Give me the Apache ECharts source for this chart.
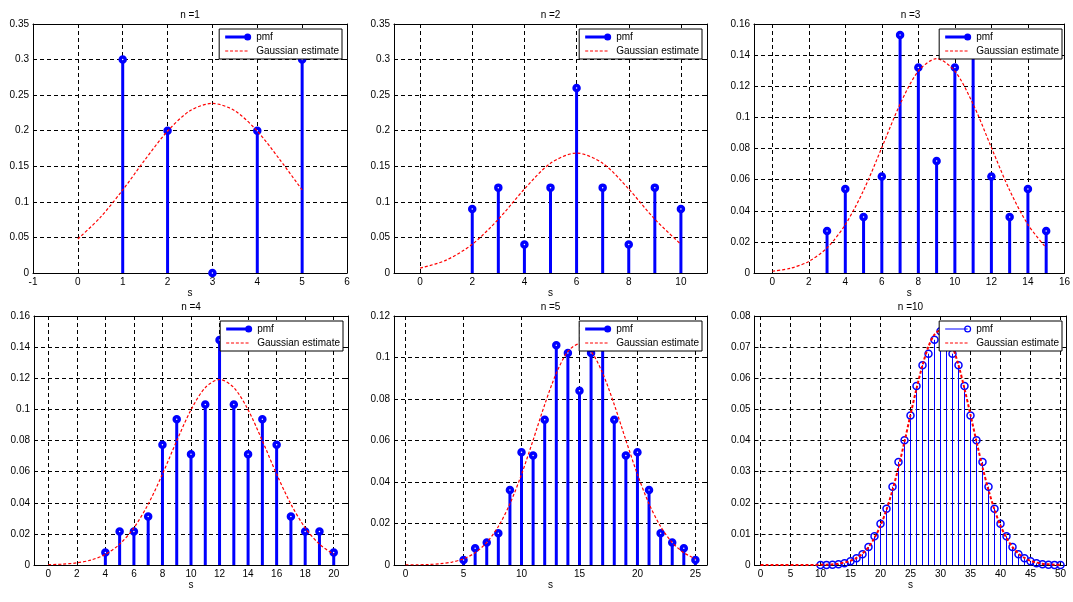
<!DOCTYPE html>
<html>
<head>
<meta charset="utf-8">
<script src="https://cdn.jsdelivr.net/npm/echarts@6/dist/echarts.min.js"></script>
<style>
html,body{margin:0;padding:0;background:#fff;}
#c{width:1073px;height:602px;}
</style>
</head>
<body>
<div id="c"></div>
<script>
// ---------------- data ----------------
const titles = ['n =1', 'n =2', 'n =3', 'n =4', 'n =5', 'n =10'];

const s1 = [1, 2, 3, 4, 5];
const pmf1 = [0.3, 0.2, 0, 0.2, 0.3];
const s2 = [2, 3, 4, 5, 6, 7, 8, 9, 10];
const pmf2 = [0.09, 0.12, 0.04, 0.12, 0.26, 0.12, 0.04, 0.12, 0.09];
const s3 = [3, 4, 5, 6, 7, 8, 9, 10, 11, 12, 13, 14, 15];
const pmf3 = [0.027, 0.054, 0.036, 0.062, 0.153, 0.132, 0.072, 0.132, 0.153, 0.062, 0.036, 0.054, 0.027];
const s4 = [4, 5, 6, 7, 8, 9, 10, 11, 12, 13, 14, 15, 16, 17, 18, 19, 20];
const pmf4 = [0.0081, 0.0216, 0.0216, 0.0312, 0.0772, 0.0936, 0.0712, 0.1032, 0.1446, 0.1032, 0.0712, 0.0936, 0.0772, 0.0312, 0.0216, 0.0216, 0.0081];
const s5 = [5, 6, 7, 8, 9, 10, 11, 12, 13, 14, 15, 16, 17, 18, 19, 20, 21, 22, 23, 24, 25];
const pmf5 = [0.00243, 0.0081, 0.0108, 0.0153, 0.03615, 0.05432, 0.0528, 0.07, 0.1059, 0.1022, 0.084, 0.1022, 0.1059, 0.07, 0.0528, 0.05432, 0.03615, 0.0153, 0.0108, 0.0081, 0.00243];
const s10 = [10, 11, 12, 13, 14, 15, 16, 17, 18, 19, 20, 21, 22, 23, 24, 25, 26, 27, 28, 29, 30,
             31, 32, 33, 34, 35, 36, 37, 38, 39, 40, 41, 42, 43, 44, 45, 46, 47, 48, 49, 50];
const pmf10 = [0.0000059, 0.0000394, 0.000118, 0.000249, 0.00054, 0.00118, 0.00215, 0.00348, 0.00576, 0.00927,
               0.01326, 0.0181, 0.02516, 0.03312, 0.04006, 0.04801, 0.05749, 0.06421, 0.06789, 0.07235, 0.07511,
               0.07235, 0.06789, 0.06421, 0.05749, 0.04801, 0.04006, 0.03312, 0.02516, 0.0181, 0.01326,
               0.00927, 0.00576, 0.00348, 0.00215, 0.00118, 0.00054, 0.000249, 0.000118, 0.0000394, 0.0000059];

const gx1 = [0, 0.5, 1, 1.5, 2, 2.5, 3, 3.5, 4, 4.5, 5];
const g1 = [0.0478, 0.0781, 0.1167, 0.1595, 0.1994, 0.2280, 0.2384, 0.2280, 0.1994, 0.1595, 0.1167];
const gx2 = [0, 1, 2, 3, 4, 5, 6, 7, 8, 9, 10];
const g2 = [0.00677, 0.0181, 0.0404, 0.0755, 0.1180, 0.1542, 0.1686, 0.1542, 0.1180, 0.0755, 0.0404];
const gx3 = [0, 1, 2, 3, 4, 5, 6, 7, 8, 9, 10, 11, 12, 13, 14, 15];
const g3 = [0.00111, 0.00305, 0.00745, 0.01615, 0.0311, 0.0531, 0.0806, 0.1085, 0.1297, 0.1377, 0.1297, 0.1085, 0.0806, 0.0531, 0.0311, 0.01615];
const gx4 = [0, 1, 2, 3, 4, 5, 6, 7, 8, 9, 10, 11, 12, 13, 14, 15, 16, 17, 18, 19, 20];
const g4 = [0.000193, 0.000538, 0.00137, 0.00321, 0.00685, 0.01338, 0.0239, 0.0391, 0.0584, 0.0798, 0.0997, 0.1140, 0.1192,
            0.1140, 0.0997, 0.0798, 0.0584, 0.0391, 0.0239, 0.01338, 0.00685];
const gx5 = [0, 1, 2, 3, 4, 5, 6, 7, 8, 9, 10, 11, 12, 13, 14, 15, 16, 17, 18, 19, 20, 21, 22, 23, 24, 25];
const g5 = [0.0000345, 0.0000972, 0.000255, 0.000623, 0.001416, 0.002997, 0.00591, 0.01084, 0.01853, 0.02948, 0.04366,
            0.0602, 0.0773, 0.0924, 0.1029, 0.1066, 0.1029, 0.0924, 0.0773, 0.0602, 0.04366, 0.02948, 0.01853, 0.01084, 0.00591, 0.002997];
const gx10 = [0, 1, 2, 3, 4, 5, 6, 7, 8, 9, 10, 11, 12, 13, 14, 15, 16, 17, 18, 19, 20, 21, 22, 23, 24, 25,
              26, 27, 28, 29, 30, 31, 32, 33, 34, 35, 36, 37, 38, 39, 40, 41, 42, 43, 44, 45, 46, 47, 48, 49, 50];
const g10 = [0, 0, 0.0000001, 0.0000002, 0.0000004, 0.0000011, 0.0000026, 0.0000059, 0.0000133, 0.0000287, 0.0000596,
             0.00012, 0.000232, 0.000433, 0.00078, 0.001356, 0.002277, 0.003687, 0.00576, 0.00869, 0.01264,
             0.01775, 0.02404, 0.03143, 0.03964, 0.04824, 0.05666, 0.0642, 0.0702, 0.07406, 0.07539,
             0.07406, 0.0702, 0.0642, 0.05666, 0.04824, 0.03964, 0.03143, 0.02404, 0.01775, 0.01264,
             0.00869, 0.00576, 0.003687, 0.002277, 0.001356, 0.00078, 0.000433, 0.000232, 0.00012, 0.0000596];

const xTicks1 = [-1, 0, 1, 2, 3, 4, 5, 6];
const xTicks2 = [0, 2, 4, 6, 8, 10];
const xTicks3 = [0, 2, 4, 6, 8, 10, 12, 14, 16];
const xTicks4 = [0, 2, 4, 6, 8, 10, 12, 14, 16, 18, 20];
const xTicks5 = [0, 5, 10, 15, 20, 25];
const xTicks10 = [0, 5, 10, 15, 20, 25, 30, 35, 40, 45, 50];
const xRanges = [[-1, 6], [-1, 11], [-1, 16], [-1, 21], [-1, 26], [-1, 51]];
const yMaxes = [0.35, 0.35, 0.16, 0.16, 0.12, 0.08];
const ySteps = [0.05, 0.05, 0.02, 0.02, 0.02, 0.01];

// ---------------- layout / style ----------------
const FONT = '"Liberation Sans", Arial, Helvetica, sans-serif';
const W = 1073;
const boxes = [
  {left: 33, top: 24, width: 314, height: 249},
  {left: 394, top: 24, width: 313, height: 249},
  {left: 754, top: 24, width: 313, height: 249},
  {left: 34, top: 316, width: 314, height: 249},
  {left: 394, top: 316, width: 313, height: 249},
  {left: 754.5, top: 316, width: 312, height: 249}
];
const panels = [
  {s: s1, pmf: pmf1, gx: gx1, g: g1, ticks: xTicks1, thin: false},
  {s: s2, pmf: pmf2, gx: gx2, g: g2, ticks: xTicks2, thin: false},
  {s: s3, pmf: pmf3, gx: gx3, g: g3, ticks: xTicks3, thin: false},
  {s: s4, pmf: pmf4, gx: gx4, g: g4, ticks: xTicks4, thin: false},
  {s: s5, pmf: pmf5, gx: gx5, g: g5, ticks: xTicks5, thin: false},
  {s: s10, pmf: pmf10, gx: gx10, g: g10, ticks: xTicks10, thin: true}
];

const PMF_ICON = 'path://M0,2.5L22.3,2.5L22.3,5.5L0,5.5Z M18.8,4A3.5,3.5 0 1 1 25.8,4A3.5,3.5 0 1 1 18.8,4Z';
const PMF_ICON_THIN = 'path://M0,3.5L22.3,3.5L22.3,4.5L0,4.5Z M18.8,4A3.5,3.5 0 1 1 25.8,4A3.5,3.5 0 1 1 18.8,4Z M20,4A2.3,2.3 0 1 0 24.6,4A2.3,2.3 0 1 0 20,4Z';
const GAUSS_ICON = 'path://M0,3.4L3,3.4L3,4.6L0,4.6Z M4.8,3.4L7.8,3.4L7.8,4.6L4.8,4.6Z M9.6,3.4L12.6,3.4L12.6,4.6L9.6,4.6Z M14.4,3.4L17.4,3.4L17.4,4.6L14.4,4.6Z M19.2,3.4L22.2,3.4L22.2,4.6L19.2,4.6Z M25.75,3.98L25.8,3.98L25.8,4.02L25.75,4.02Z';

const pairs = (xs, ys) => xs.map((x, k) => [x, ys[k]]);
function stems(xs, ys) {
  const out = [];
  xs.forEach((x, k) => {
    out.push({value: [x, 0], symbol: 'none'});
    out.push([x, ys[k]]);
    out.push([x, '-']);
  });
  return out;
}

const textBase = {fontFamily: FONT, fontSize: 10, color: '#000'};
const option = {
  animation: false,
  backgroundColor: '#ffffff',
  textStyle: {fontFamily: FONT},
  title: [], grid: [], xAxis: [], yAxis: [], legend: [], series: []
};

panels.forEach((p, i) => {
  const b = boxes[i];
  const [xMin, xMax] = xRanges[i];
  const axisLine = {show: true, onZero: false, lineStyle: {color: '#000', width: 1}};
  const xTick = {show: true, inside: true, length: 3, customValues: p.ticks, lineStyle: {color: '#000', width: 1}};
  const yTick = {show: true, inside: true, length: 3, lineStyle: {color: '#000', width: 1}};
  const grid = {color: '#000', width: 1, type: [4, 3]};

  option.grid.push({left: b.left, top: b.top, width: b.width, height: b.height});
  option.title.push({
    text: titles[i], left: b.left + b.width / 2, top: b.top - 14, textAlign: 'center', padding: 0,
    textStyle: Object.assign({}, textBase, {fontWeight: 'normal'})
  });

  option.xAxis.push({
    type: 'value', gridIndex: i, position: 'bottom', min: xMin, max: xMax,
    name: 's', nameLocation: 'middle', nameGap: 13, nameTextStyle: textBase,
    axisLine: axisLine, axisTick: xTick,
    axisLabel: Object.assign({customValues: p.ticks, margin: 4}, textBase),
    splitLine: {show: true, lineStyle: grid}
  });
  option.xAxis.push({
    type: 'value', gridIndex: i, position: 'top', min: xMin, max: xMax,
    axisLine: axisLine, axisTick: xTick, axisLabel: {show: false}, splitLine: {show: false}
  });
  option.yAxis.push({
    type: 'value', gridIndex: i, position: 'left', min: 0, max: yMaxes[i], interval: ySteps[i],
    axisLine: axisLine, axisTick: yTick,
    axisLabel: Object.assign({margin: 4}, textBase),
    splitLine: {show: true, lineStyle: grid}
  });
  option.yAxis.push({
    type: 'value', gridIndex: i, position: 'right', min: 0, max: yMaxes[i], interval: ySteps[i],
    axisLine: axisLine, axisTick: yTick, axisLabel: {show: false}, splitLine: {show: false}
  });

  option.legend.push({
    orient: 'vertical', right: W - Math.round(b.left + b.width) + 5, top: b.top + 5,
    backgroundColor: '#fff', borderColor: '#000', borderWidth: 1, borderRadius: 0,
    padding: [2, 3, 2, 6], itemGap: 2, itemWidth: 26, itemHeight: 8,
    selectedMode: false, z: 10,
    textStyle: Object.assign({lineHeight: 12}, textBase),
    data: [
      {name: 'pmf', icon: p.thin ? PMF_ICON_THIN : PMF_ICON, itemStyle: {color: '#0000ff', borderWidth: 0}},
      {name: 'Gaussian estimate', icon: GAUSS_ICON, itemStyle: {color: '#ff0000', borderWidth: 0}}
    ]
  });

  option.series.push({
    name: 'pmf', type: 'line', xAxisIndex: 2 * i, yAxisIndex: 2 * i,
    data: stems(p.s, p.pmf), connectNulls: false,
    symbol: 'circle', symbolSize: p.thin ? 7 : 5, showSymbol: true, showAllSymbol: true,
    color: '#0000ff',
    lineStyle: {color: '#0000ff', width: p.thin ? 1 : 3},
    itemStyle: {color: p.thin ? 'rgba(255,255,255,0)' : '#ffffff', borderColor: '#0000ff', borderWidth: p.thin ? 1.5 : 3.5},
    silent: true, z: 2
  });
  option.series.push({
    name: 'Gaussian estimate', type: 'line', xAxisIndex: 2 * i, yAxisIndex: 2 * i,
    data: pairs(p.gx, p.g), symbol: 'none', smooth: 0.3,
    color: '#ff0000',
    lineStyle: {color: '#ff0000', width: p.thin ? 2 : 1.2, type: [3, 2]},
    silent: true, z: 3
  });
});

const chart = echarts.init(document.getElementById('c'), null, {renderer: 'canvas'});
chart.setOption(option);
</script>
</body>
</html>
